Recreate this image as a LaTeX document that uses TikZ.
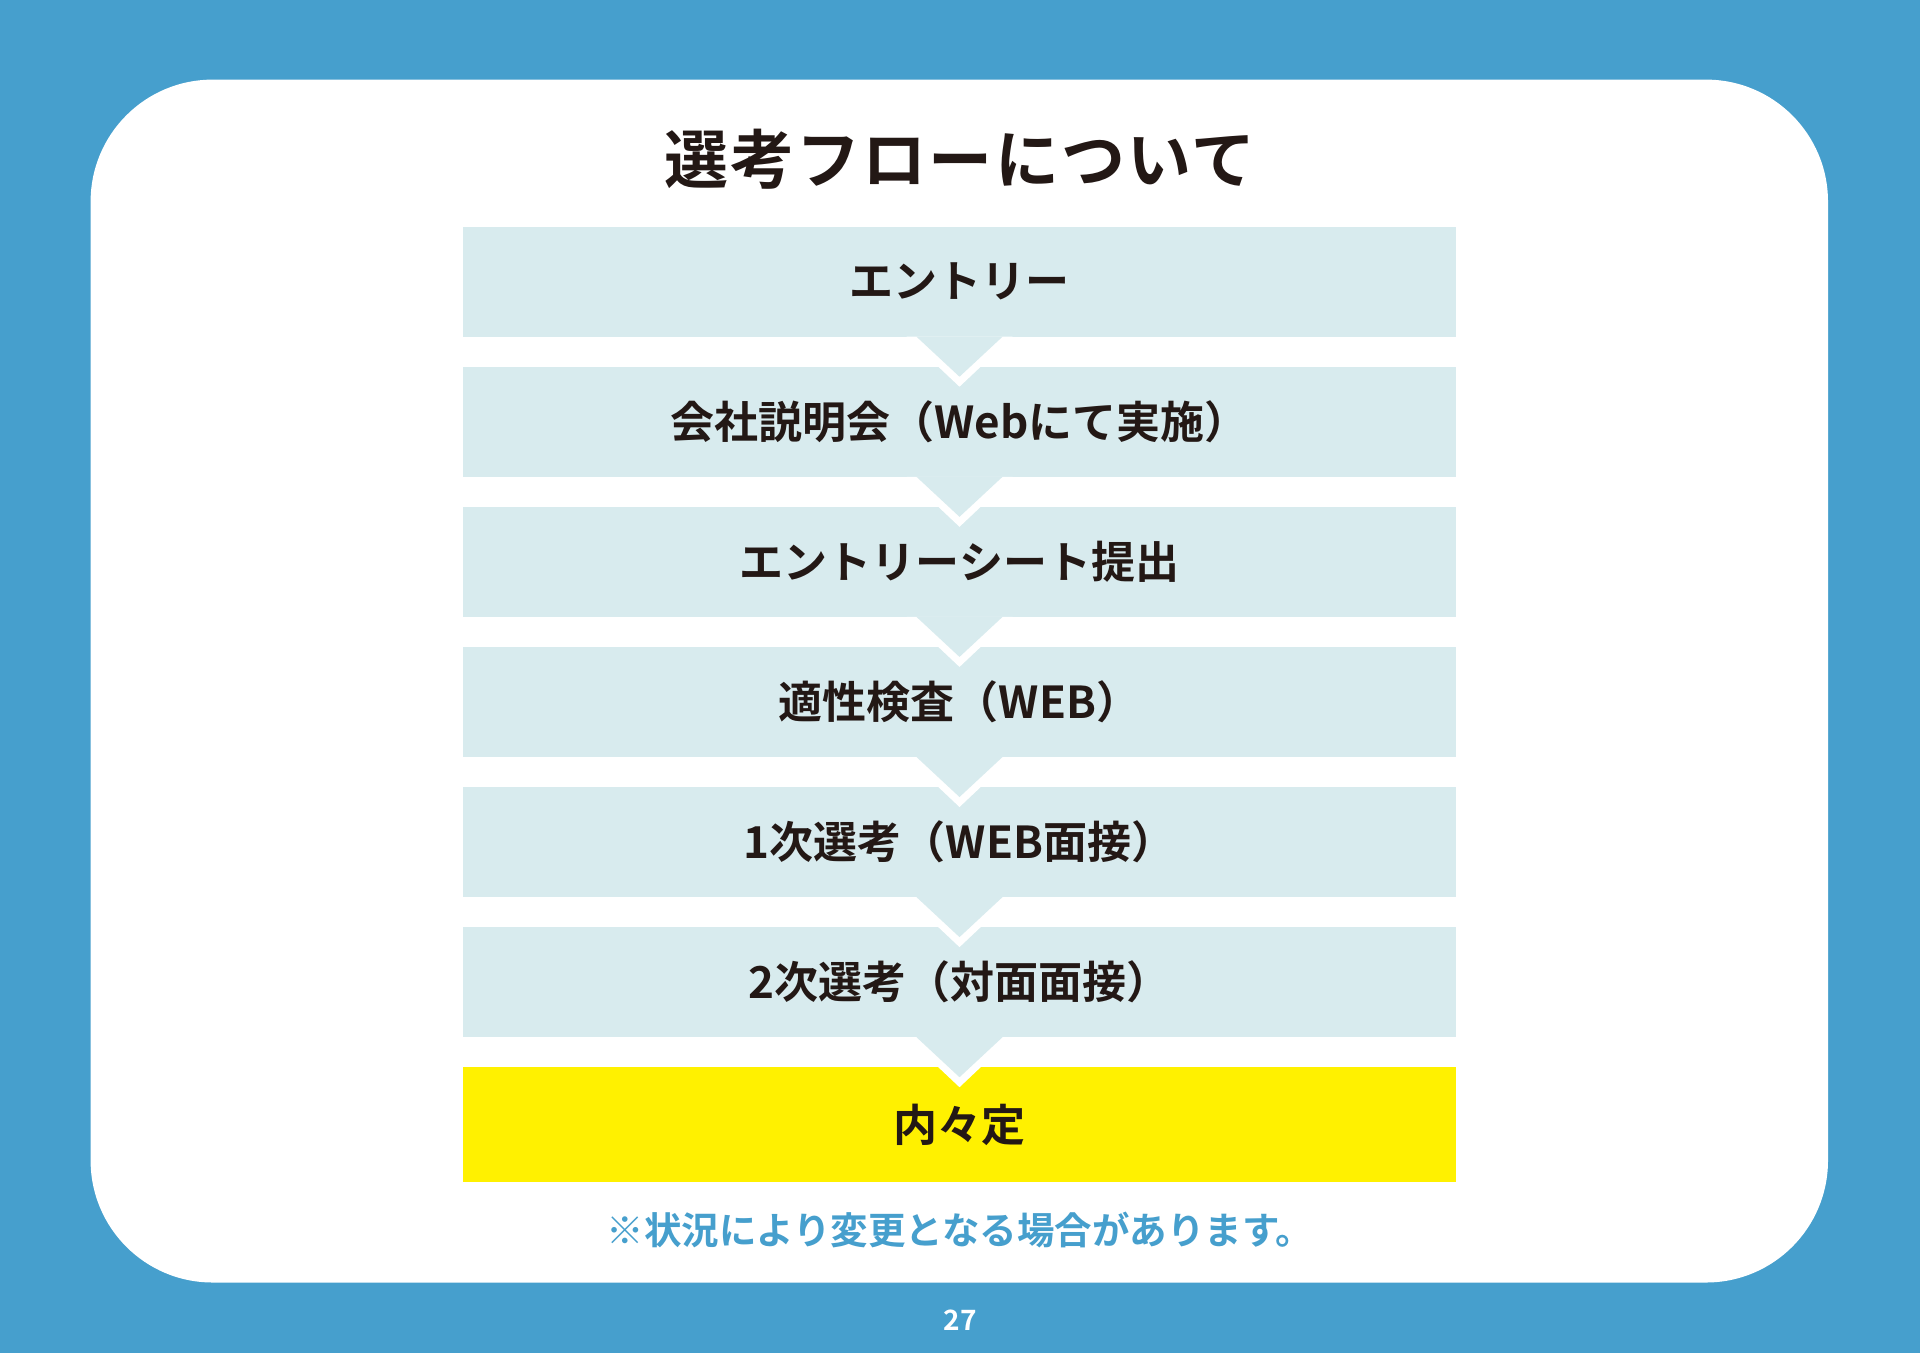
\documentclass[tikz,border=0pt]{standalone}
\usepackage{fontspec}
\usetikzlibrary{positioning}
\usetikzlibrary{calc}

\newfontfamily\jpbold{Noto Sans CJK JP Bold}
\newfontfamily\jpcim{Noto Sans CJK JP Bold}[LetterSpace=3.5]

\definecolor{hatterkek}{HTML}{469FCD}
\definecolor{dobozkek}{HTML}{D8EBEE}
\definecolor{sarga}{HTML}{FFF100}
\definecolor{betu}{HTML}{231815}

\begin{document}
\begin{tikzpicture}[%
x=1pt, y=-1pt,
node distance=29.7pt,
lepes/.style={inner sep=0, fill=dobozkek, text=betu, minimum width=993pt, minimum height=110pt,
  font=\jpbold\fontsize{44}{44}\selectfont},
vege/.style={lepes, fill=sarga, minimum height=115pt},
cim/.style={inner sep=0, text=betu, font=\jpcim\fontsize{64}{64}\selectfont},
megj/.style={inner sep=0, text=hatterkek, font=\jpbold\fontsize{37.5}{38}\selectfont},
oldal/.style={inner sep=0, text=white, font=\jpbold\fontsize{28}{28}\selectfont},
]

\pgfmathsetmacro{\nyilszel}{43}
\pgfmathsetmacro{\nyilmag}{40}
\pgfmathsetmacro{\keret}{10}

% hatter es feher lap
\fill[hatterkek] (0,0) rectangle (1920,1353);
\fill[white, rounded corners=122pt] (90.6,79.6) rectangle (1828,1282.5);

\node[cim](cim) at (960,159){選考フローについて};

\node[lepes](l1) at (959.5,281.5){エントリー};
\node[lepes, below=of l1](l2){会社説明会（Webにて実施）};
\node[lepes, below=of l2](l3){エントリーシート提出};
\node[lepes, below=of l3](l4){適性検査（WEB）};
\node[lepes, below=of l4](l5){1次選考（WEB面接）};
\node[lepes, below=of l5](l6){2次選考（対面面接）};
\node[vege, below=of l6](l7){内々定};

% nyilak a dobozok kozott
\foreach \a/\b in {l1/l2, l2/l3, l3/l4, l4/l5, l5/l6, l6/l7}{
  \fill[white] ([xshift=-\nyilszel pt-\keret pt]\a.south)
    --($(\a.south)!\nyilmag pt+\keret pt!(\b.north)$)
    --([xshift=\nyilszel pt+\keret pt]\a.south)--cycle;
  \fill[dobozkek] ([xshift=-\nyilszel pt]\a.south)
    --($(\a.south)!\nyilmag pt!(\b.north)$)
    --([xshift=\nyilszel pt]\a.south)--cycle;
}

\node[megj](megj) at (960,1230){※状況により変更となる場合があります。};
\node[oldal](oldal) at (960,1320){27};

\end{tikzpicture}
\end{document}
